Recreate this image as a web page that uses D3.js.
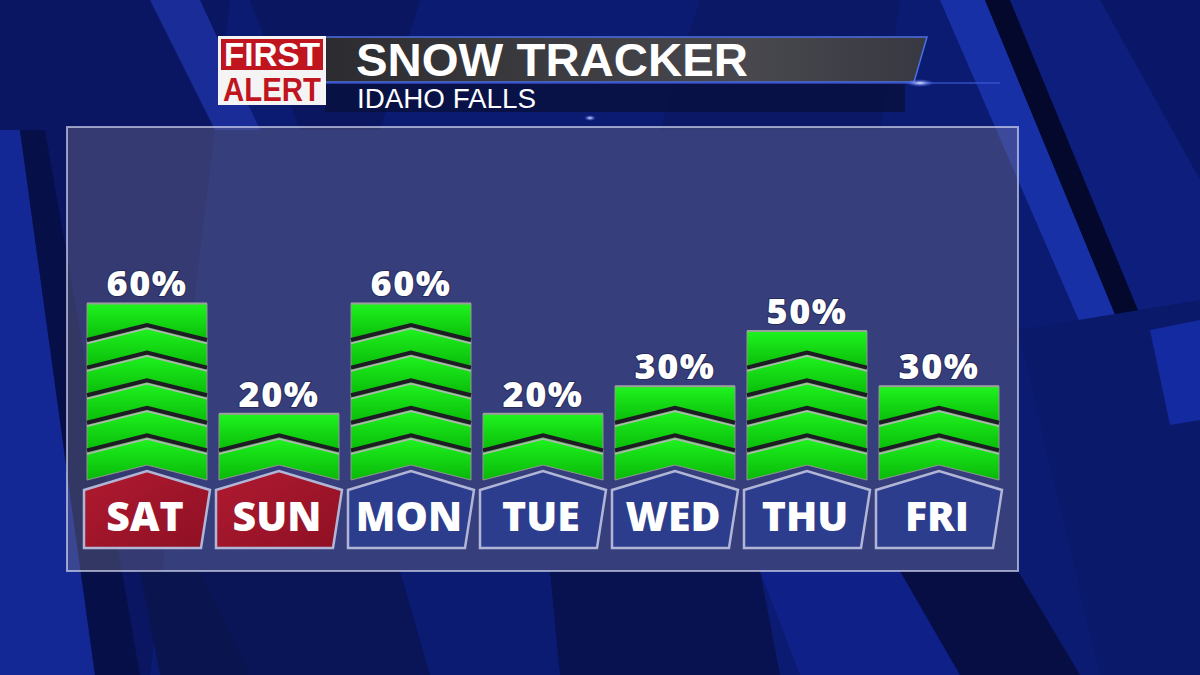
<!DOCTYPE html>
<html lang="en">
<head>
    <meta charset="UTF-8">
    <title>Snow Tracker - Idaho Falls</title>
    <style>
        body, html { margin: 0; padding: 0; background: #0b1a6e; overflow: hidden; }
        #chart { width: 1200px; height: 675px; }
    </style>
    <script src="https://d3js.org/d3.v7.min.js"></script>
</head>
<body>
    <div id="chart"></div>
    <script>
        // chart data
        const days = ["SAT", "SUN", "MON", "TUE", "WED", "THU", "FRI"];
        const chances = [60, 20, 60, 20, 30, 50, 30];
        const weekendDays = ["SAT", "SUN"];
        const title = "SNOW TRACKER";
        const subtitle = "IDAHO FALLS";

        const width = 1200, height = 675;
        const svg = d3.select("#chart").append("svg")
            .attr("width", width)
            .attr("height", height)
            .style("display", "block");

        const defs = svg.append("defs");

        // green segment gradient
        const g1 = defs.append("linearGradient").attr("id", "seg").attr("x1", 0).attr("y1", 0).attr("x2", 0).attr("y2", 1);
        g1.append("stop").attr("offset", "0%").attr("stop-color", "#1ff41f");
        g1.append("stop").attr("offset", "100%").attr("stop-color", "#08b808");

        const g2 = defs.append("linearGradient").attr("id", "bar").attr("x1", 0).attr("y1", 0).attr("x2", 1).attr("y2", 0);
        g2.append("stop").attr("offset", "0%").attr("stop-color", "#2c2c30");
        g2.append("stop").attr("offset", "70%").attr("stop-color", "#48484e");
        g2.append("stop").attr("offset", "100%").attr("stop-color", "#383842");

        const red = defs.append("linearGradient").attr("id", "red").attr("x1", 0).attr("y1", 0).attr("x2", 1).attr("y2", 1);
        red.append("stop").attr("offset", "0%").attr("stop-color", "#b01a30");
        red.append("stop").attr("offset", "100%").attr("stop-color", "#8e1024");

        const glow = defs.append("radialGradient").attr("id", "glow");
        glow.append("stop").attr("offset", "0%").attr("stop-color", "#dfe8ff").attr("stop-opacity", 1);
        glow.append("stop").attr("offset", "100%").attr("stop-color", "#4060ff").attr("stop-opacity", 0);

        // ---- background: diagonal blue stripes
        const bg = svg.append("g");
        bg.append("rect").attr("width", width).attr("height", height).attr("fill", "#0c1b72");
        const stripes = [
            {p: [[0,0],[230,0],[150,675],[0,675]], c: "#0a1662"},
            {p: [[0,130],[20,130],[95,675],[0,675]], c: "#132894"},
            {p: [[20,130],[45,130],[140,675],[95,675]], c: "#070f48"},
            {p: [[150,0],[200,0],[260,130],[215,130]], c: "#1a2c98"},
            {p: [[250,0],[420,0],[380,130],[300,130]], c: "#0a1760"},
            {p: [[700,0],[900,0],[880,130],[660,130]], c: "#0b1866"},
            {p: [[940,0],[985,0],[1200,520],[1200,600]], c: "#1830a6"},
            {p: [[985,0],[1010,0],[1200,460],[1200,520]], c: "#03082c"},
            {p: [[1010,0],[1200,0],[1200,460]], c: "#0e1e7c"},
            {p: [[1100,0],[1200,0],[1200,180]], c: "#0a1768"},
            {p: [[1018,330],[1200,300],[1200,675],[1100,675]], c: "#0b196a"},
            {p: [[1150,330],[1200,320],[1200,420],[1170,425]], c: "#142aa0"},
            {p: [[200,571],[400,571],[430,675],[250,675]], c: "#0a1558"},
            {p: [[550,571],[760,571],[780,675],[560,675]], c: "#081250"},
            {p: [[760,571],[900,571],[960,675],[800,675]], c: "#0f2088"},
            {p: [[900,571],[1018,571],[1080,675],[960,675]], c: "#070e44"},
            {p: [[140,571],[200,571],[250,675],[160,675]], c: "#0a154f"}
        ];
        bg.selectAll("polygon").data(stripes).join("polygon")
            .attr("points", d => d.p.map(q => q.join(",")).join(" "))
            .attr("fill", d => d.c);

        // ---- header
        const head = svg.append("g");
        head.append("rect").attr("x", 325).attr("y", 82).attr("width", 580).attr("height", 30).attr("fill", "#081040").attr("opacity", 0.85);
        head.append("polygon")
            .attr("points", "325,37 927,37 914,82 325,82")
            .attr("fill", "url(#bar)")
            .attr("stroke", "#4c6fe0").attr("stroke-width", 1.5);
        head.append("line").attr("x1", 325).attr("x2", 1000).attr("y1", 83).attr("y2", 83)
            .attr("stroke", "#3c5ad8").attr("stroke-width", 1.5).attr("opacity", 0.8);
        head.append("ellipse").attr("cx", 920).attr("cy", 83).attr("rx", 14).attr("ry", 4).attr("fill", "url(#glow)");
        head.append("ellipse").attr("cx", 590).attr("cy", 118).attr("rx", 6).attr("ry", 3).attr("fill", "url(#glow)");

        // logo
        head.append("rect").attr("x", 218).attr("y", 36).attr("width", 108).attr("height", 69).attr("fill", "#f4f4f4");
        head.append("rect").attr("x", 221).attr("y", 39).attr("width", 102).attr("height", 31).attr("fill", "#c0141e");
        head.append("text").attr("x", 224).attr("y", 66)
            .attr("textLength", 96).attr("lengthAdjust", "spacingAndGlyphs")
            .attr("font-family", "Liberation Sans Narrow, Liberation Sans, Arial, sans-serif")
            .attr("font-weight", "bold").attr("font-size", 34).attr("fill", "#fff").text("FIRST");
        head.append("text").attr("x", 223).attr("y", 101)
            .attr("textLength", 98).attr("lengthAdjust", "spacingAndGlyphs")
            .attr("font-family", "Liberation Sans Narrow, Liberation Sans, Arial, sans-serif")
            .attr("font-weight", "bold").attr("font-size", 34).attr("fill", "#c0141e").text("ALERT");

        head.append("text").attr("x", 356).attr("y", 76)
            .attr("font-family", "Liberation Sans, Arial, sans-serif").attr("font-weight", 700)
            .attr("font-size", 47).attr("fill", "#fff").attr("textLength", 392)
            .attr("lengthAdjust", "spacingAndGlyphs").text(title);
        head.append("text").attr("x", 357).attr("y", 108)
            .attr("font-family", "Liberation Sans, Arial, sans-serif").attr("font-weight", 400)
            .attr("font-size", 27).attr("fill", "#fff").attr("textLength", 179)
            .attr("lengthAdjust", "spacingAndGlyphs").text(subtitle);

        // ---- panel
        svg.append("rect")
            .attr("x", 67).attr("y", 127).attr("width", 951).attr("height", 444)
            .attr("fill", "rgba(118,114,140,0.4)")
            .attr("stroke", "rgba(205,210,235,0.7)").attr("stroke-width", 2);

        // ---- scales
        const x = d3.scaleBand().domain(days).range([81, 1005]).paddingInner(12 / 132).paddingOuter(6 / 132);
        const y = d3.scaleLinear().domain([0, 60]).range([480, 314.4]);
        const bw = x.bandwidth();
        const dip = 15;       // chevron height
        const capExtra = 11;  // flat top above top chevron

        const chev = (x0, yEdge) => `${x0},${yEdge} ${x0 + bw / 2},${yEdge - dip} ${x0 + bw},${yEdge}`;

        const bars = svg.append("g").selectAll("g")
            .data(days.map((d, i) => ({day: d, value: chances[i]})))
            .join("g");

        bars.each(function(d) {
            const g = d3.select(this);
            const x0 = x(d.day);
            const n = d.value / 10;
            const top = y(d.value) - capExtra;
            // segments from bottom
            for (let k = 0; k < n; k++) {
                const yb = y(k * 10);
                const yt = y((k + 1) * 10);
                let pts;
                if (k === n - 1) {
                    pts = `${x0},${top} ${x0 + bw},${top} ${x0 + bw},${yb} ${x0 + bw / 2},${yb - dip} ${x0},${yb}`;
                } else {
                    pts = `${x0},${yt} ${x0 + bw / 2},${yt - dip} ${x0 + bw},${yt} ${x0 + bw},${yb} ${x0 + bw / 2},${yb - dip} ${x0},${yb}`;
                }
                g.append("polygon").attr("points", pts)
                    .attr("fill", "url(#seg)")
                    .attr("stroke", "#8f9a8f").attr("stroke-width", 1);
            }
            // dividers
            for (let k = 1; k < n; k++) {
                const ye = y(k * 10);
                g.append("polyline").attr("points", chev(x0, ye - 2))
                    .attr("fill", "none").attr("stroke", "#1c1c22").attr("stroke-width", 4);
                g.append("polyline").attr("points", chev(x0, ye + 1.5))
                    .attr("fill", "none").attr("stroke", "#b4b8b4").attr("stroke-width", 1.5);
            }
            // top edge
            g.append("line").attr("x1", x0).attr("x2", x0 + bw).attr("y1", top).attr("y2", top)
                .attr("stroke", "#9aa09a").attr("stroke-width", 2);

            // percent label
            g.append("text")
                .attr("x", x0 + bw / 2).attr("y", top - 7)
                .attr("text-anchor", "middle")
                .attr("font-family", "Open Sans, sans-serif").attr("font-weight", 800)
                .attr("font-size", 36).attr("letter-spacing", 1.5)
                .attr("fill", "#fff")
                .style("paint-order", "stroke").attr("stroke", "rgba(20,25,60,0.5)").attr("stroke-width", 2)
                .text(d.value + "%");

            // day label
            const L = x0 - 3, w = bw + 6;
            const e = y(0) + 10;
            g.append("polygon")
                .attr("points", `${L},${e} ${L + w / 2},${e - 19} ${L + w},${e} ${L + w - 9},548 ${L},548`)
                .attr("fill", weekendDays.includes(d.day) ? "url(#red)" : "#2c3d8e")
                .attr("stroke", "#b2b6d6").attr("stroke-width", 2.5);
            g.append("text")
                .attr("x", L + w / 2 - 2).attr("y", 531)
                .attr("text-anchor", "middle")
                .attr("font-family", "Open Sans, sans-serif").attr("font-weight", 800)
                .attr("font-size", 41).attr("fill", "#fff")
                .text(d.day);
        });
    </script>
</body>
</html>
